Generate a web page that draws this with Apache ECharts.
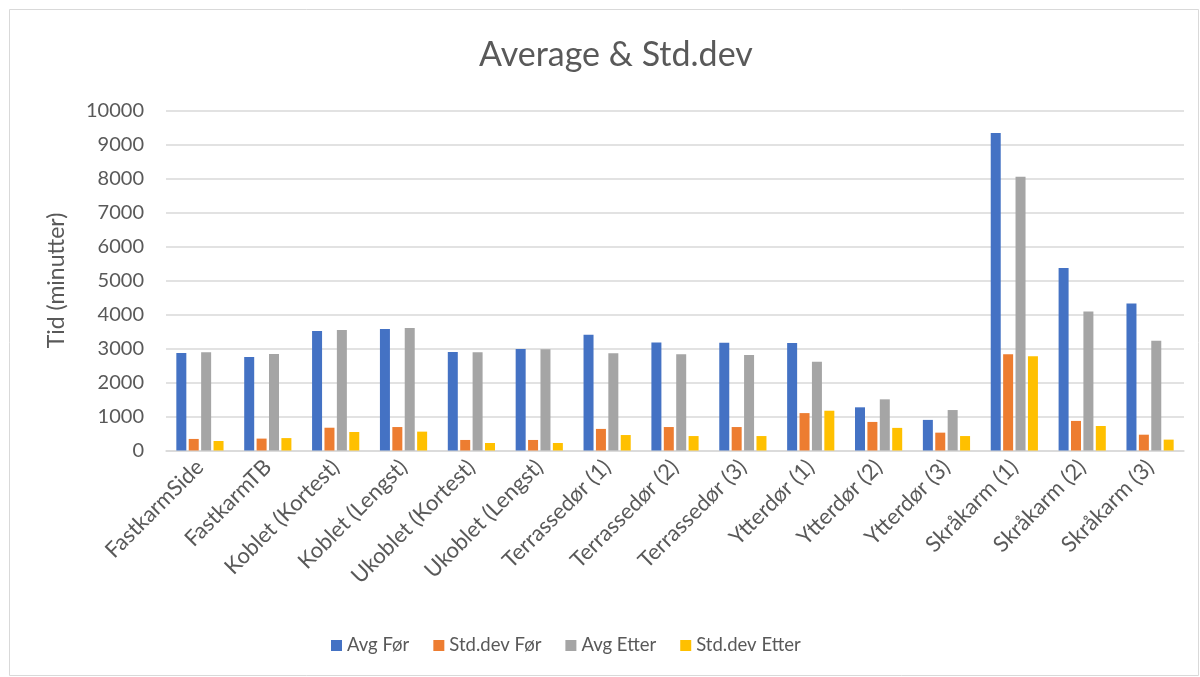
<!DOCTYPE html>
<html>
<head>
<meta charset="utf-8">
<style>
  html, body { margin: 0; padding: 0; background: #fff; }
  #chart { width: 1200px; height: 677px; }
</style>
<script src="https://cdn.jsdelivr.net/npm/echarts@6/dist/echarts.min.js"></script>
</head>
<body>
<div id="chart"></div>
<script>
// Measurement categories
const categories = [
  'FastkarmSide', 'FastkarmTB', 'Koblet (Kortest)', 'Koblet (Lengst)',
  'Ukoblet (Kortest)', 'Ukoblet (Lengst)', 'Terrassedør (1)', 'Terrassedør (2)',
  'Terrassedør (3)', 'Ytterdør (1)', 'Ytterdør (2)', 'Ytterdør (3)',
  'Skråkarm (1)', 'Skråkarm (2)', 'Skråkarm (3)'
];

// Time in minutes per category
const avgFor      = [2870, 2750, 3515, 3575, 2900, 2985, 3405, 3180, 3170, 3160, 1270, 900, 9340, 5370, 4325];
const stdDevFor   = [340, 350, 670, 690, 310, 310, 635, 690, 690, 1100, 840, 525, 2830, 870, 465];
const avgEtter    = [2890, 2840, 3545, 3600, 2890, 2975, 2860, 2830, 2810, 2610, 1505, 1190, 8050, 4085, 3225];
const stdDevEtter = [280, 365, 545, 555, 220, 220, 455, 425, 425, 1170, 665, 425, 2770, 720, 320];

const seriesNames = ['Avg Før', 'Std.dev Før', 'Avg Etter', 'Std.dev Etter'];
const seriesData = [avgFor, stdDevFor, avgEtter, stdDevEtter];
const colors = ['#4472C4', '#ED7D31', '#A5A5A5', '#FFC000'];

const textColor = '#595959';
const fontFamily = 'Lato, "Open Sans", sans-serif';

const chart = echarts.init(document.getElementById('chart'), null, { renderer: 'canvas' });

chart.setOption({
  animation: false,
  backgroundColor: '#ffffff',
  color: colors,
  textStyle: { fontFamily: fontFamily, color: textColor },
  title: {
    text: 'Average & Std.dev',
    left: 474,
    top: 33,
    textStyle: { fontFamily: fontFamily, fontSize: 34, fontWeight: 'normal', color: textColor }
  },
  legend: {
    bottom: 22,
    left: 331,
    padding: 0,
    itemWidth: 11,
    itemHeight: 11,
    itemGap: 24,
    icon: 'rect',
    textStyle: { fontFamily: fontFamily, fontSize: 18.5, color: textColor },
    data: seriesNames
  },
  grid: {
    left: 166,
    right: 16,
    top: 110.5,
    bottom: 226.5,
    containLabel: false
  },
  xAxis: {
    type: 'category',
    data: categories,
    axisLine: { show: true, lineStyle: { color: '#d9d9d9', width: 1.5 } },
    axisTick: { show: false },
    axisLabel: {
      rotate: 45,
      interval: 0,
      margin: 13,
      fontSize: 22,
      color: textColor,
      fontFamily: fontFamily
    }
  },
  yAxis: {
    type: 'value',
    min: 0,
    max: 10000,
    interval: 1000,
    name: 'Tid (minutter)',
    nameLocation: 'middle',
    nameGap: 98,
    nameRotate: 90,
    nameTextStyle: { fontSize: 23, color: textColor, fontFamily: fontFamily },
    axisLine: { show: false },
    axisTick: { show: false },
    axisLabel: {
      fontSize: 20,
      color: textColor,
      margin: 22,
      fontFamily: fontFamily,
      formatter: (v) => String(v)
    },
    splitLine: { lineStyle: { color: '#d9d9d9', width: 1.5 } }
  },
  series: seriesNames.map((name, i) => ({
    name: name,
    type: 'bar',
    data: seriesData[i],
    barWidth: 10,
    barGap: '24%',
    itemStyle: { color: colors[i] }
  })),
  graphic: [{
    type: 'rect',
    shape: { x: 9.5, y: 9.5, width: 1189, height: 666 },
    style: { fill: 'none', stroke: '#d9d9d9', lineWidth: 1 },
    silent: true
  }]
});
</script>
</body>
</html>
